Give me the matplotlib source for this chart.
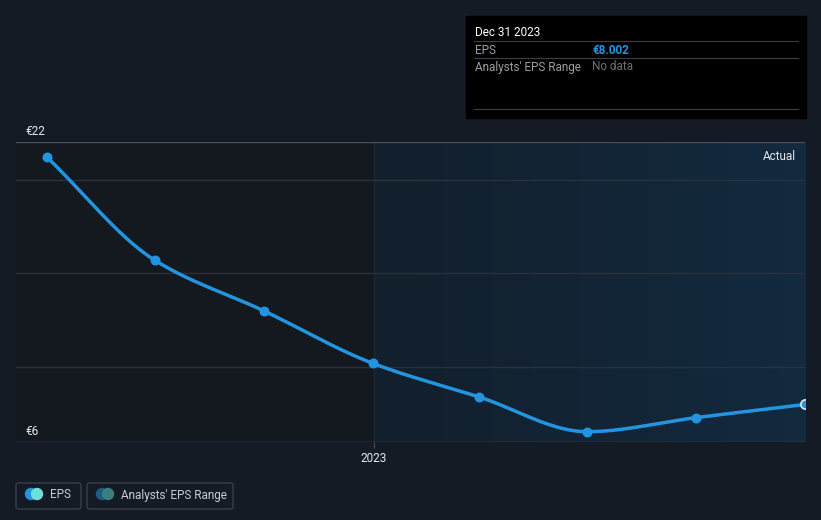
import numpy as np
import pandas as pd
import matplotlib.pyplot as plt
import matplotlib.dates as mdates
from matplotlib.patches import FancyBboxPatch, Rectangle, Ellipse
from matplotlib.colors import LinearSegmentedColormap

plt.rcParams['font.family'] = ['Roboto', 'DejaVu Sans']

# data (EPS, trailing, quarterly)
dates = pd.to_datetime(["2022-03-31", "2022-06-30", "2022-09-30", "2022-12-31",
                        "2023-03-31", "2023-06-30", "2023-09-30", "2023-12-31"])
eps = [21.2, 15.7, 13.0, 10.2, 8.4, 6.55, 7.3, 8.002]
y_ticks = [6, 22]
y_tick_labels = ["€6", "€22"]
grid_vals = [10, 15, 20]

BG = "#151b24"
LEFT_BG = "#141920"
BLUE = "#2394df"


def pchip(x, y, xs):
    x = np.asarray(x, float); y = np.asarray(y, float)
    h = np.diff(x); d = np.diff(y) / h
    m = np.zeros_like(y)
    for k in range(1, len(y) - 1):
        if d[k - 1] * d[k] > 0:
            w1 = 2 * h[k] + h[k - 1]; w2 = h[k] + 2 * h[k - 1]
            m[k] = (w1 + w2) / (w1 / d[k - 1] + w2 / d[k])
    m[0] = d[0]; m[-1] = d[-1]
    idx = np.clip(np.searchsorted(x, xs) - 1, 0, len(h) - 1)
    t = (xs - x[idx]) / h[idx]
    h00 = 2*t**3 - 3*t**2 + 1; h10 = t**3 - 2*t**2 + t
    h01 = -2*t**3 + 3*t**2; h11 = t**3 - t**2
    return h00*y[idx] + h10*h[idx]*m[idx] + h01*y[idx+1] + h11*h[idx]*m[idx+1]


fig = plt.figure(figsize=(8.21, 5.20), dpi=100, facecolor=BG)
ax = fig.add_axes([16/821, 78/520, 789/821, 300/520])
ax.set_facecolor(LEFT_BG)

xnum = mdates.date2num(dates)
x0 = mdates.date2num(pd.Timestamp("2022-03-05"))
x1 = mdates.date2num(pd.Timestamp("2023-12-31"))
xs2023 = mdates.date2num(pd.Timestamp("2023-01-01"))
ax.set_xlim(x0, x1)
ax.set_ylim(6, 22)

# shaded "actual" region with gradient
grad = np.linspace(0, 1, 256).reshape(1, -1)
cmap = LinearSegmentedColormap.from_list("g", ["#121f2c", "#132a3f"])
ax.imshow(grad, extent=[xs2023, x1, 6, 22], aspect="auto", cmap=cmap, zorder=0)
ax.axvline(xs2023, color="#1d2835", lw=1, zorder=1)

for g in grid_vals:
    ax.axhline(g, color="#2a313b", lw=1, zorder=1)
ax.axhline(22, color="#4a515b", lw=1, zorder=1)
ax.axhline(6, color="#4a515b", lw=1, zorder=1)

xs = np.linspace(xnum[0], xnum[-1], 400)
ax.plot(xs, pchip(xnum, eps, xs), color=BLUE, lw=2.5, zorder=3, solid_capstyle="round")
ax.scatter(xnum[:-1], eps[:-1], s=38, color=BLUE, zorder=4)
ax.scatter(xnum[-1:], eps[-1:], s=45, color=BLUE, edgecolor="#dde8f2", lw=1.2, zorder=4)

for s in ax.spines.values():
    s.set_visible(False)
ax.set_yticks([])
ax.set_xticks([xs2023])
ax.set_xticklabels(["2023"], color="#e6e8ea", fontsize=8.5)
ax.tick_params(axis="x", length=4, color="#4a515b", pad=3)

for v, lab in zip(y_ticks, y_tick_labels):
    ax.text(x0 + 8, v + 0.2, lab, color="#e6e8ea", fontsize=8.5, va="bottom", ha="left")
ax.text(0.988, 0.975, "Actual", transform=ax.transAxes, color="#e6e8ea", fontsize=8.5,
        ha="right", va="top")

# tooltip box
fig.patches.append(Rectangle((466/821, 1 - 118/520), 340/821, 102/520,
                             transform=fig.transFigure, color="#000000", zorder=5))
for yy in [41, 58, 109]:
    fig.add_artist(plt.Line2D([474/821, 798/821], [1 - yy/520] * 2, color="#3a3f45", lw=0.8, zorder=6))
fig.text(475/821, 1 - 32/520, "Dec 31 2023", color="white", fontsize=8.5, va="center", zorder=7)
fig.text(475/821, 1 - 50/520, "EPS", color="#9a9ea3", fontsize=8.5, va="center", zorder=7)
fig.text(592/821, 1 - 50/520, "€8.002", color=BLUE, fontsize=8.5, fontweight="bold", va="center", zorder=7)
fig.text(475/821, 1 - 67/520, "Analysts' EPS Range", color="#9a9ea3", fontsize=8.5, va="center", zorder=7)
fig.text(592/821, 1 - 67/520, "No data", color="#6c7076", fontsize=8.5, va="center", zorder=7)

# legend
def legend_box(xl, w, c1, c2, label):
    fig.patches.append(FancyBboxPatch((xl/821, 1 - 509/520), w/821, 26/520,
                                      boxstyle="round,pad=0,rounding_size=0.004",
                                      transform=fig.transFigure, facecolor="none",
                                      edgecolor="#3a404a", lw=1))
    fig.patches.append(Ellipse(((xl + 15)/821, 1 - 494/520), 11/821, 11/520,
                               transform=fig.transFigure, color=c1, zorder=3))
    fig.patches.append(Ellipse(((xl + 21)/821, 1 - 494/520), 11/821, 11/520,
                               transform=fig.transFigure, color=c2, zorder=4))
    fig.text((xl + 34)/821, 1 - 495/520, label, color="#c8ccd0", fontsize=8.5, va="center")

legend_box(16, 65, "#2394df", "#6de0d8", "EPS")
legend_box(87, 146, "#1f5a86", "#3b7f7b", "Analysts' EPS Range")

fig.savefig("out.png", dpi=100, facecolor=BG)
